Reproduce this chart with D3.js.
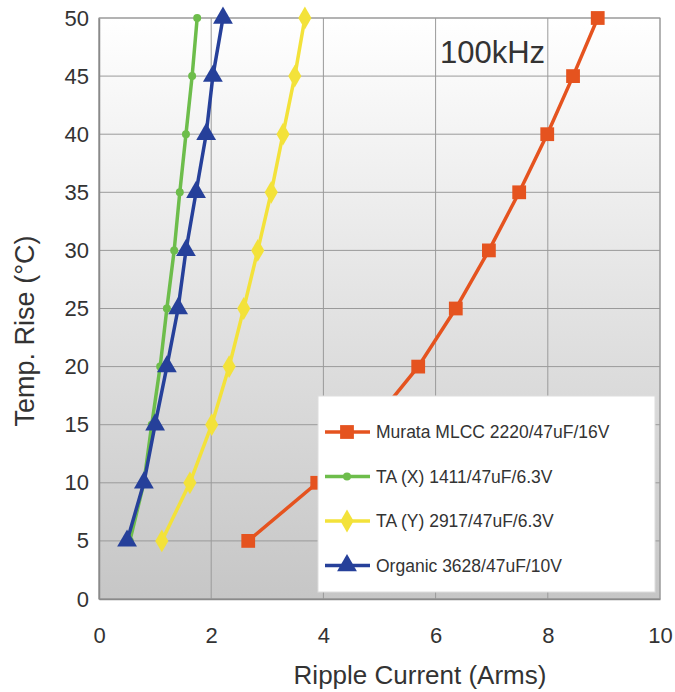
<!DOCTYPE html>
<html>
<head>
<meta charset="utf-8">
<script src="https://d3js.org/d3.v7.min.js"></script>
<style>
  body { margin: 0; background: #fff; }
  text { font-family: "Liberation Sans", Arial, sans-serif; }
</style>
</head>
<body>
<script>
// temperature rise steps (y values)
var temps = [5, 10, 15, 20, 25, 30, 35, 40, 45, 50];
// ripple current (Arms) per series
var murata = [2.66, 3.89, 4.85, 5.69, 6.36, 6.95, 7.49, 7.99, 8.45, 8.89];
var taX    = [0.55, 0.80, 0.94, 1.09, 1.21, 1.34, 1.44, 1.55, 1.66, 1.75];
var taY    = [1.12, 1.62, 2.01, 2.32, 2.58, 2.83, 3.07, 3.28, 3.49, 3.67];
var organic = [0.50, 0.80, 1.00, 1.21, 1.41, 1.55, 1.73, 1.91, 2.03, 2.21];
var seriesNames = ["Murata MLCC 2220/47uF/16V", "TA (X) 1411/47uF/6.3V", "TA (Y) 2917/47uF/6.3V", "Organic 3628/47uF/10V"];
var xTicks = [0, 2, 4, 6, 8, 10];
var yTicks = [0, 5, 10, 15, 20, 25, 30, 35, 40, 45, 50];

var w = 675, h = 692;
var mLeft = 99, mRight = 660, mTop = 18, mBottom = 599;

var series = [
  {name: seriesNames[0], vals: murata, color: "#e5531f", shape: d3.symbolSquare, size: 190},
  {name: seriesNames[1], vals: taX, color: "#6dbd4b", shape: d3.symbolCircle, size: 50},
  {name: seriesNames[2], vals: taY, color: "#f3e23a", shape: d3.symbolDiamond, size: 150},
  {name: seriesNames[3], vals: organic, color: "#26409a", shape: d3.symbolTriangle, size: 170}
];

var x = d3.scaleLinear().domain([0, 10]).range([mLeft, mRight]);
var y = d3.scaleLinear().domain([0, 50]).range([mBottom, mTop]);

var svg = d3.select("body").append("svg").attr("width", w).attr("height", h);

var grad = svg.append("defs").append("linearGradient")
  .attr("id", "bg").attr("x1", 0).attr("y1", 0).attr("x2", 0).attr("y2", 1);
grad.append("stop").attr("offset", "0%").attr("stop-color", "#ffffff");
grad.append("stop").attr("offset", "100%").attr("stop-color", "#c6c6c6");

svg.append("rect")
  .attr("x", mLeft).attr("y", mTop)
  .attr("width", mRight - mLeft).attr("height", mBottom - mTop)
  .attr("fill", "url(#bg)").attr("stroke", "#9a9a9a");

// grid
svg.append("g").selectAll("line").data(yTicks).enter().append("line")
  .attr("x1", mLeft).attr("x2", mRight)
  .attr("y1", function(d){ return y(d); }).attr("y2", function(d){ return y(d); })
  .attr("stroke", "#9a9a9a").attr("stroke-width", 1);
svg.append("g").selectAll("line").data(xTicks).enter().append("line")
  .attr("y1", mTop).attr("y2", mBottom)
  .attr("x1", function(d){ return x(d); }).attr("x2", function(d){ return x(d); })
  .attr("stroke", "#9a9a9a").attr("stroke-width", 1);

// axes
var xAxis = svg.append("g").attr("transform", "translate(0," + mBottom + ")")
  .call(d3.axisBottom(x).tickValues(xTicks).tickSize(0).tickPadding(28));
var yAxis = svg.append("g").attr("transform", "translate(" + mLeft + ",0)")
  .call(d3.axisLeft(y).tickValues(yTicks).tickSize(0).tickPadding(10));
[xAxis, yAxis].forEach(function(a){
  a.select(".domain").attr("stroke", "#8a8a8a").attr("stroke-width", 1.5);
  a.selectAll("text").attr("font-size", "22px").attr("fill", "#333")
    .attr("font-family", "'Liberation Sans', Arial, sans-serif");
});

// lines + markers
var line = d3.line()
  .x(function(d){ return x(d[0]); })
  .y(function(d){ return y(d[1]); });

series.forEach(function(s){
  var pts = s.vals.map(function(v, i){ return [v, temps[i]]; });
  svg.append("path").datum(pts)
    .attr("d", line).attr("fill", "none")
    .attr("stroke", s.color).attr("stroke-width", 3.5);
  svg.append("g").selectAll("path").data(pts).enter().append("path")
    .attr("d", d3.symbol().type(s.shape).size(s.size))
    .attr("transform", function(d){ return "translate(" + x(d[0]) + "," + y(d[1]) + ")"; })
    .attr("fill", s.color);
});

// label
svg.append("text").attr("x", 440).attr("y", 63)
  .attr("font-size", "31px").attr("fill", "#333").text("100kHz");

// legend
var lg = svg.append("g").attr("transform", "translate(318,396)");
lg.append("rect").attr("width", 337).attr("height", 196)
  .attr("fill", "#fff").attr("stroke", "#ddd");
series.forEach(function(s, i){
  var g = lg.append("g").attr("transform", "translate(0," + (36 + i * 44.5) + ")");
  g.append("line").attr("x1", 7).attr("x2", 52).attr("stroke", s.color).attr("stroke-width", 3.5);
  g.append("path").attr("d", d3.symbol().type(s.shape).size(s.size)).attr("transform", "translate(29,0)")
    .attr("fill", s.color);
  g.append("text").attr("x", 58).attr("y", 6).attr("font-size", "17.5px").attr("fill", "#333")
    .text(s.name);
});

// titles
svg.append("text").attr("x", 420).attr("y", 684).attr("text-anchor", "middle")
  .attr("font-size", "26px").attr("fill", "#333").text("Ripple Current (Arms)");
svg.append("text").attr("transform", "translate(34,331) rotate(-90)").attr("text-anchor", "middle")
  .attr("font-size", "27px").attr("fill", "#333").text("Temp. Rise (°C)");
</script>
</body>
</html>
